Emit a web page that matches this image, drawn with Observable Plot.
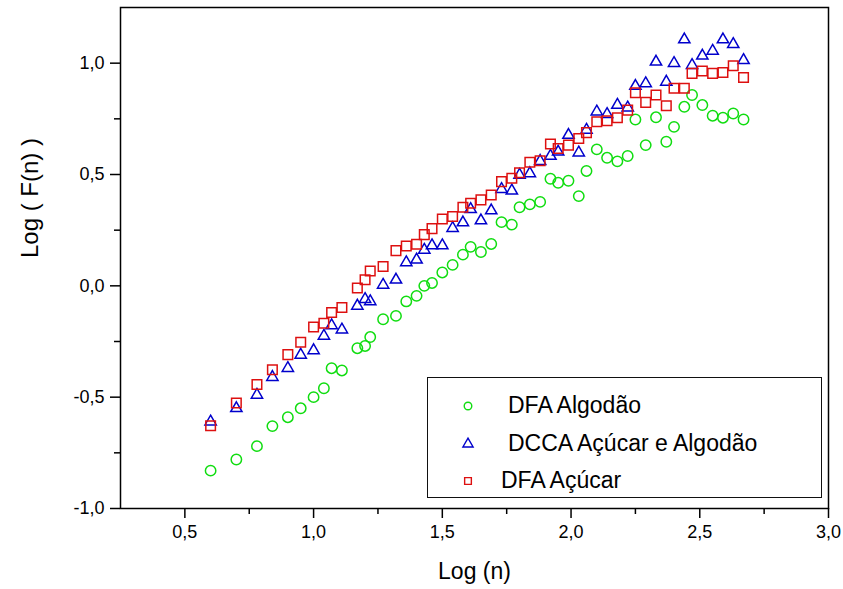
<!DOCTYPE html>
<html><head><meta charset="utf-8">
<script src="https://cdn.jsdelivr.net/npm/d3@7"></script>
<script src="https://cdn.jsdelivr.net/npm/@observablehq/plot@0.6"></script>
<style>
body{margin:0;background:#fff;font-family:"Liberation Sans",Arial,sans-serif;}
#wrap{position:relative;width:843px;height:589px;}
#legend{position:absolute;left:427px;top:377px;width:393px;height:119px;border:1.5px solid #111;background:#fff;}
.item{position:absolute;font-size:23px;color:#000;white-space:nowrap;line-height:1;}
.sym{position:absolute;}
</style></head><body><div id="wrap"></div>
<script>
const logN = [0.60,0.70,0.78,0.84,0.90,0.95,1.00,1.04,1.07,1.11,1.17,1.20,1.22,1.27,1.32,1.36,1.40,1.43,1.46,1.50,1.54,1.58,1.61,1.65,1.69,1.73,1.77,1.80,1.84,1.88,1.92,1.95,1.99,2.03,2.06,2.10,2.14,2.18,2.22,2.25,2.29,2.33,2.37,2.40,2.44,2.47,2.51,2.55,2.59,2.63,2.67];
const dfaAlgodao = [-0.83,-0.78,-0.72,-0.63,-0.59,-0.55,-0.50,-0.46,-0.37,-0.38,-0.28,-0.27,-0.23,-0.15,-0.135,-0.07,-0.045,0.00,0.013,0.06,0.094,0.14,0.175,0.152,0.188,0.286,0.275,0.353,0.366,0.377,0.481,0.463,0.472,0.403,0.516,0.613,0.575,0.559,0.583,0.747,0.632,0.757,0.647,0.714,0.804,0.857,0.812,0.764,0.755,0.774,0.747];
const dccaAcucarAlgodao = [-0.61,-0.55,-0.49,-0.41,-0.37,-0.31,-0.29,-0.225,-0.178,-0.197,-0.09,-0.06,-0.07,0.004,0.027,0.105,0.117,0.161,0.181,0.181,0.259,0.284,0.344,0.293,0.338,0.434,0.427,0.498,0.505,0.56,0.583,0.602,0.677,0.598,0.70,0.782,0.771,0.812,0.80,0.897,0.909,1.006,0.916,1.0,1.106,0.991,1.033,1.055,1.106,1.085,1.013];
const dfaAcucar = [-0.628,-0.526,-0.443,-0.377,-0.309,-0.253,-0.185,-0.168,-0.12,-0.097,-0.01,0.027,0.067,0.087,0.158,0.179,0.187,0.23,0.257,0.30,0.311,0.353,0.371,0.386,0.408,0.468,0.483,0.508,0.555,0.562,0.637,0.617,0.632,0.662,0.688,0.737,0.741,0.755,0.789,0.867,0.824,0.857,0.809,0.887,0.887,0.954,0.965,0.954,0.958,0.988,0.936];
const xTicks = [0.5,1.0,1.5,2.0,2.5,3.0];
const xMinorTicks = [0.75,1.25,1.75,2.25,2.75];
const yTicks = [-1.0,-0.5,0.0,0.5,1.0];
const yMinorTicks = [-0.75,-0.25,0.25,0.75];
const seriesNames = ["DFA Algodão","DCCA Açúcar e Algodão","DFA Açúcar"];
const seriesColors = ["#10dd10","#0000cc","#dd1010"];
const seriesSymbols = ["circle","triangle","square"];
const seriesR = [5.2,4.2,5.4];
const xTitle = "Log (n)";
const yTitle = "Log ( F(n) )";

const seriesValues = [dfaAlgodao, dccaAcucarAlgodao, dfaAcucar];
const fmt = d => d.toFixed(1).replace(".", ",");

const dotMarks = seriesValues.map((vals, i) =>
  Plot.dot(logN.map((x, j) => ({x, y: vals[j]})), {
    x: "x", y: "y", symbol: seriesSymbols[i], r: seriesR[i],
    stroke: seriesColors[i], strokeWidth: 1.5, fill: "none"
  })
);

const chart = Plot.plot({
  width: 843, height: 589,
  marginLeft: 120, marginRight: 15, marginTop: 7, marginBottom: 81,
  style: {fontFamily: "'Liberation Sans', Arial, sans-serif", fontSize: "18px", color: "#000", background: "#fff"},
  x: {domain: [0.25, 3.0]},
  y: {domain: [-1.0, 1.25]},
  marks: [
    Plot.axisX({ticks: xTicks, tickSize: 10, tickPadding: 7, tickFormat: fmt, label: null, strokeWidth: 1.5, fontSize: 18}),
    Plot.axisX({ticks: xMinorTicks, tickSize: 6, tickFormat: () => "", label: null, strokeWidth: 1.5}),
    Plot.axisY({ticks: yTicks, tickSize: 10, tickPadding: 6, tickFormat: fmt, label: null, strokeWidth: 1.5, fontSize: 18}),
    Plot.axisY({ticks: yMinorTicks, tickSize: 6, tickFormat: () => "", label: null, strokeWidth: 1.5}),
    Plot.frame({stroke: "#000", strokeWidth: 1.5}),
    ...dotMarks,
    Plot.text([xTitle], {frameAnchor: "bottom", dy: 70, fontSize: 23, text: d => d}),
    Plot.text([yTitle], {frameAnchor: "left", dx: -90, rotate: -90, fontSize: 24, text: d => d})
  ]
});

const wrap = document.getElementById("wrap");
wrap.appendChild(chart);

// legend overlay
const legend = document.createElement("div");
legend.id = "legend";
wrap.appendChild(legend);
const rowY = [28, 66, 103];
const textX = [80, 80, 73];
seriesNames.forEach((name, i) => {
  const s = d3.create("svg").attr("class", "sym").attr("width", 20).attr("height", 20)
    .style("left", (40 - 10) + "px").style("top", (rowY[i] - 10) + "px");
  s.append("path")
    .attr("d", d3.symbol(d3["symbol" + seriesSymbols[i][0].toUpperCase() + seriesSymbols[i].slice(1)], 45)())
    .attr("transform", "translate(10,10)")
    .attr("fill", "none").attr("stroke", seriesColors[i]).attr("stroke-width", 1.4);
  legend.appendChild(s.node());
  const t = document.createElement("div");
  t.className = "item";
  t.textContent = name;
  t.style.left = textX[i] + "px";
  t.style.top = (rowY[i] - 12) + "px";
  legend.appendChild(t);
});
</script></body></html>
